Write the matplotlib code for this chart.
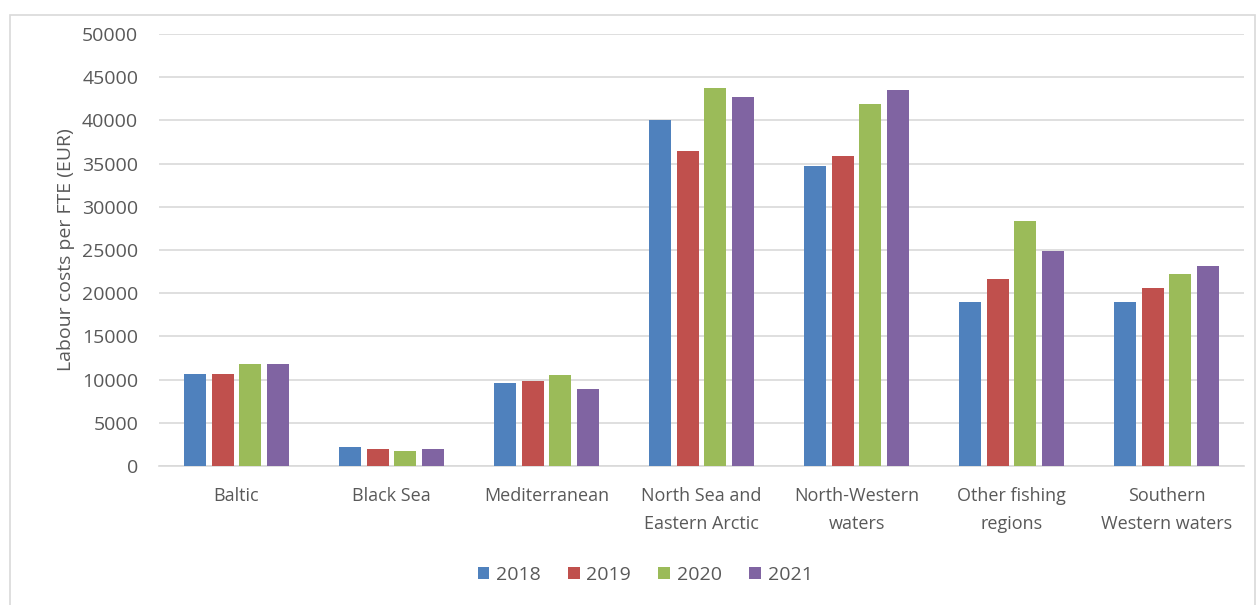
import matplotlib
matplotlib.use("Agg")
import matplotlib.pyplot as plt
import numpy as np
from matplotlib.patches import Rectangle

categories = ["Baltic", "Black Sea", "Mediterranean", "North Sea and\nEastern Arctic",
              "North-Western\nwaters", "Other fishing\nregions", "Southern\nWestern waters"]
years = ["2018", "2019", "2020", "2021"]
v2018 = [10600, 2200, 9600, 40000, 34700, 19000, 19000]
v2019 = [10600, 2000, 9800, 36500, 35900, 21600, 20600]
v2020 = [11800, 1700, 10500, 43800, 41900, 28300, 22200]
v2021 = [11800, 2000, 8900, 42700, 43500, 24900, 23100]
series = [v2018, v2019, v2020, v2021]
colors = ["#4F81BD", "#C0504D", "#9BBB59", "#8064A2"]

plt.rcParams['font.family'] = ['Open Sans', 'DejaVu Sans']

fig = plt.figure(figsize=(12.59, 6.05), dpi=100)
ax = fig.add_axes([159/1259, 1-466/605, (1244-159)/1259, (466-34)/605])

x = np.arange(len(categories))
w = 0.142
pitch = 0.18
for i, (vals, c, yr) in enumerate(zip(series, colors, years)):
    ax.bar(x + (i-1.5)*pitch, vals, width=w, color=c, label=yr, zorder=3)

ax.set_xlim(-0.5, len(categories)-0.5)
ax.set_ylim(0, 50000)
ax.set_yticks(np.arange(0, 50001, 5000))
ax.yaxis.grid(True, color="#D9D9D9", linewidth=1.2, zorder=0)
for s in ["top", "right", "left"]:
    ax.spines[s].set_visible(False)
ax.spines["bottom"].set_color("#D9D9D9")
ax.spines["bottom"].set_linewidth(1.2)
ax.tick_params(axis='both', length=0, colors="#595959")
ax.tick_params(axis='y', pad=15, labelsize=14)
ax.tick_params(axis='x', pad=15, labelsize=13)
ax.set_xticks(x)
ax.set_xticklabels(categories, linespacing=1.75)
ax.set_ylabel("Labour costs per FTE (EUR)", fontsize=14, color="#595959", labelpad=5)

leg = fig.legend(loc="center", bbox_to_anchor=(645/1259, 1-575/605), ncol=4, frameon=False,
                 fontsize=14, handlelength=0.6, handleheight=0.6, handletextpad=0.35,
                 columnspacing=1.4, labelcolor="#595959")

fig.patches.append(Rectangle((10/1259, -0.05), (1255-10)/1259, 1-15/605+0.05,
                             transform=fig.transFigure, fill=False,
                             edgecolor="#D9D9D9", linewidth=1.2))

fig.savefig("out.png", dpi=100)
